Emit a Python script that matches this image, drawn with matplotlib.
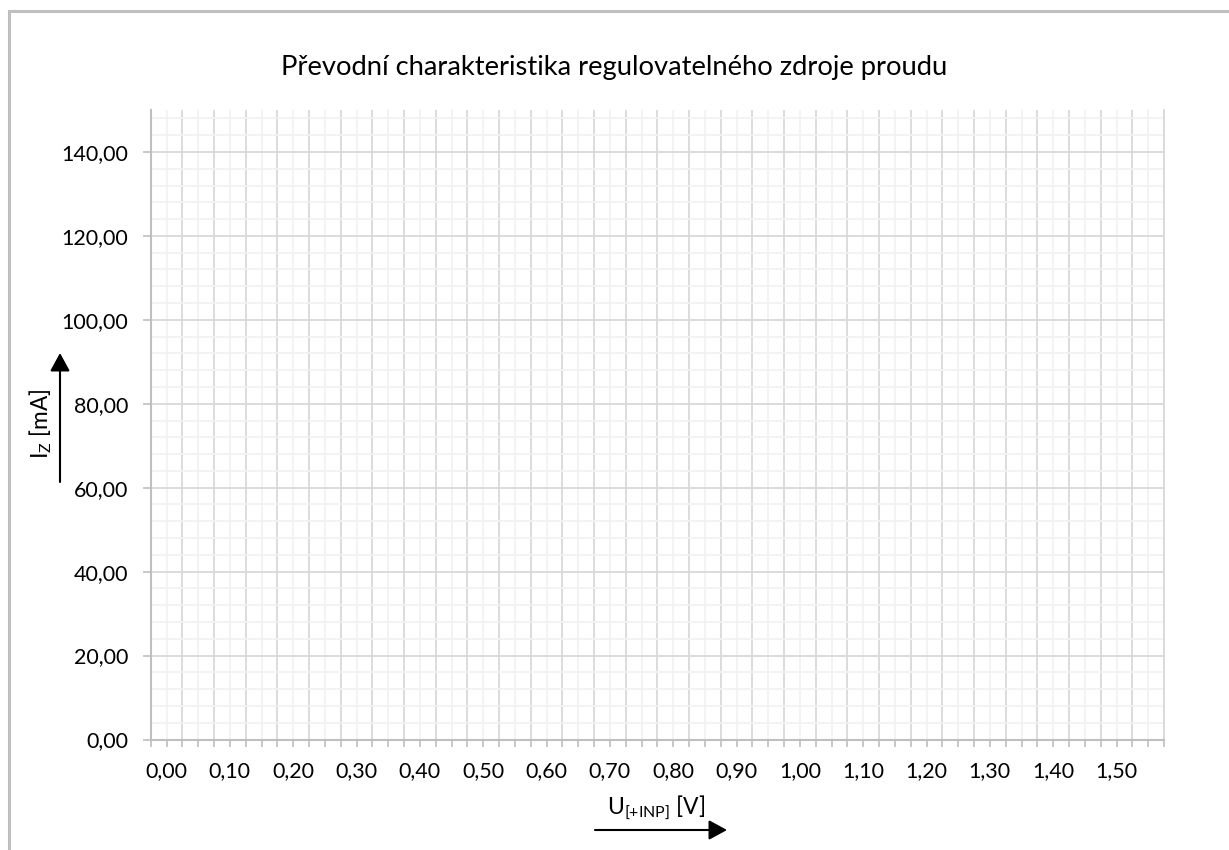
import matplotlib.pyplot as plt
import matplotlib.patches as patches
import matplotlib.ticker as ticker

# categories on the x axis (Excel category axis, every 2nd label shown)
u_inp = [0.00, 0.05, 0.10, 0.15, 0.20, 0.25, 0.30, 0.35, 0.40, 0.45,
         0.50, 0.55, 0.60, 0.65, 0.70, 0.75, 0.80, 0.85, 0.90, 0.95,
         1.00, 1.05, 1.10, 1.15, 1.20, 1.25, 1.30, 1.35, 1.40, 1.45,
         1.50, 1.55]
y_ticks = [0, 20, 40, 60, 80, 100, 120, 140]
y_max = 150
y_minor_step = 4

TITLE = "Převodní charakteristika regulovatelného zdroje proudu"
FONT = ["Lato", "DejaVu Sans"]

W, H = 1229, 850
plt.rcParams['font.family'] = FONT
plt.rcParams['mathtext.fontset'] = 'custom'
plt.rcParams['mathtext.rm'] = 'Lato'

fig = plt.figure(figsize=(W / 100, H / 100), dpi=100)

def fx(px):
    return px / W

def fy(py):
    return 1 - py / H

ax = fig.add_axes([fx(150.7), fy(739.5), fx(1164) - fx(150.7), fy(110) - fy(739.5)])

n = len(u_inp)
ax.set_xlim(0, n)
ax.set_ylim(0, y_max)

# category boundaries -> major gridlines, category centers -> minor gridlines + labels
ax.set_xticks(range(n + 1))
ax.set_xticklabels([])
centers = [i + 0.5 for i in range(n)]
labels = [f"{v:.2f}".replace(".", ",") if i % 2 == 0 else "" for i, v in enumerate(u_inp)]
ax.set_xticks(centers, minor=True)
ax.set_xticklabels(labels, minor=True)

ax.set_yticks(y_ticks)
ax.set_yticklabels([f"{v:.2f}".replace(".", ",") for v in y_ticks])
ax.yaxis.set_minor_locator(ticker.MultipleLocator(y_minor_step))

ax.grid(which='major', color='#d9d9d9', lw=1.3)
ax.grid(which='minor', color='#f2f2f2', lw=1.3)
ax.set_axisbelow(True)

ax.tick_params(axis='x', which='both', length=5, width=1.2, color='#bfbfbf',
               labelsize=15.5, pad=10.5, labelcolor='black')
ax.tick_params(axis='y', which='major', length=5.8, width=1.2, color='#bfbfbf',
               labelsize=15.5, pad=10.5, labelcolor='black')
ax.tick_params(axis='y', which='minor', length=0)

ax.spines['top'].set_visible(False)
ax.spines['right'].set_color('#d9d9d9')
ax.spines['right'].set_linewidth(1.3)
ax.spines['left'].set_color('#bfbfbf')
ax.spines['left'].set_linewidth(1.5)
ax.spines['bottom'].set_color('#bfbfbf')
ax.spines['bottom'].set_linewidth(1.5)

# title and axis labels
fig.text(fx(614), fy(68), TITLE, ha='center', va='center', fontsize=19.7)
fig.text(fx(41), fy(424), r"I$_\mathregular{Z}$ [mA]", ha='center', va='center',
         rotation=90, fontsize=16.3)
fig.text(fx(656), fy(808), r"U$_\mathregular{[+INP]}$ [V]", ha='center', va='center',
         fontsize=16.5)

arrow = dict(arrowstyle='-|>,head_length=0.55,head_width=0.3', color='black',
             lw=1.5, mutation_scale=20, shrinkA=0, shrinkB=0)
ax.annotate("", xy=(60, H - 353), xytext=(60, H - 482), xycoords='figure pixels',
            textcoords='figure pixels', arrowprops=arrow, annotation_clip=False)
ax.annotate("", xy=(727, H - 830), xytext=(595, H - 830), xycoords='figure pixels',
            textcoords='figure pixels', arrowprops=arrow, annotation_clip=False)

# chart area border (cut by the image edge on the right and bottom)
fig.add_artist(patches.Rectangle((fx(9), -0.1), 1.2, fy(11) + 0.1, fill=False,
                                 edgecolor='#bfbfbf', lw=2.2, transform=fig.transFigure))

fig.savefig("out.png", dpi=100)
